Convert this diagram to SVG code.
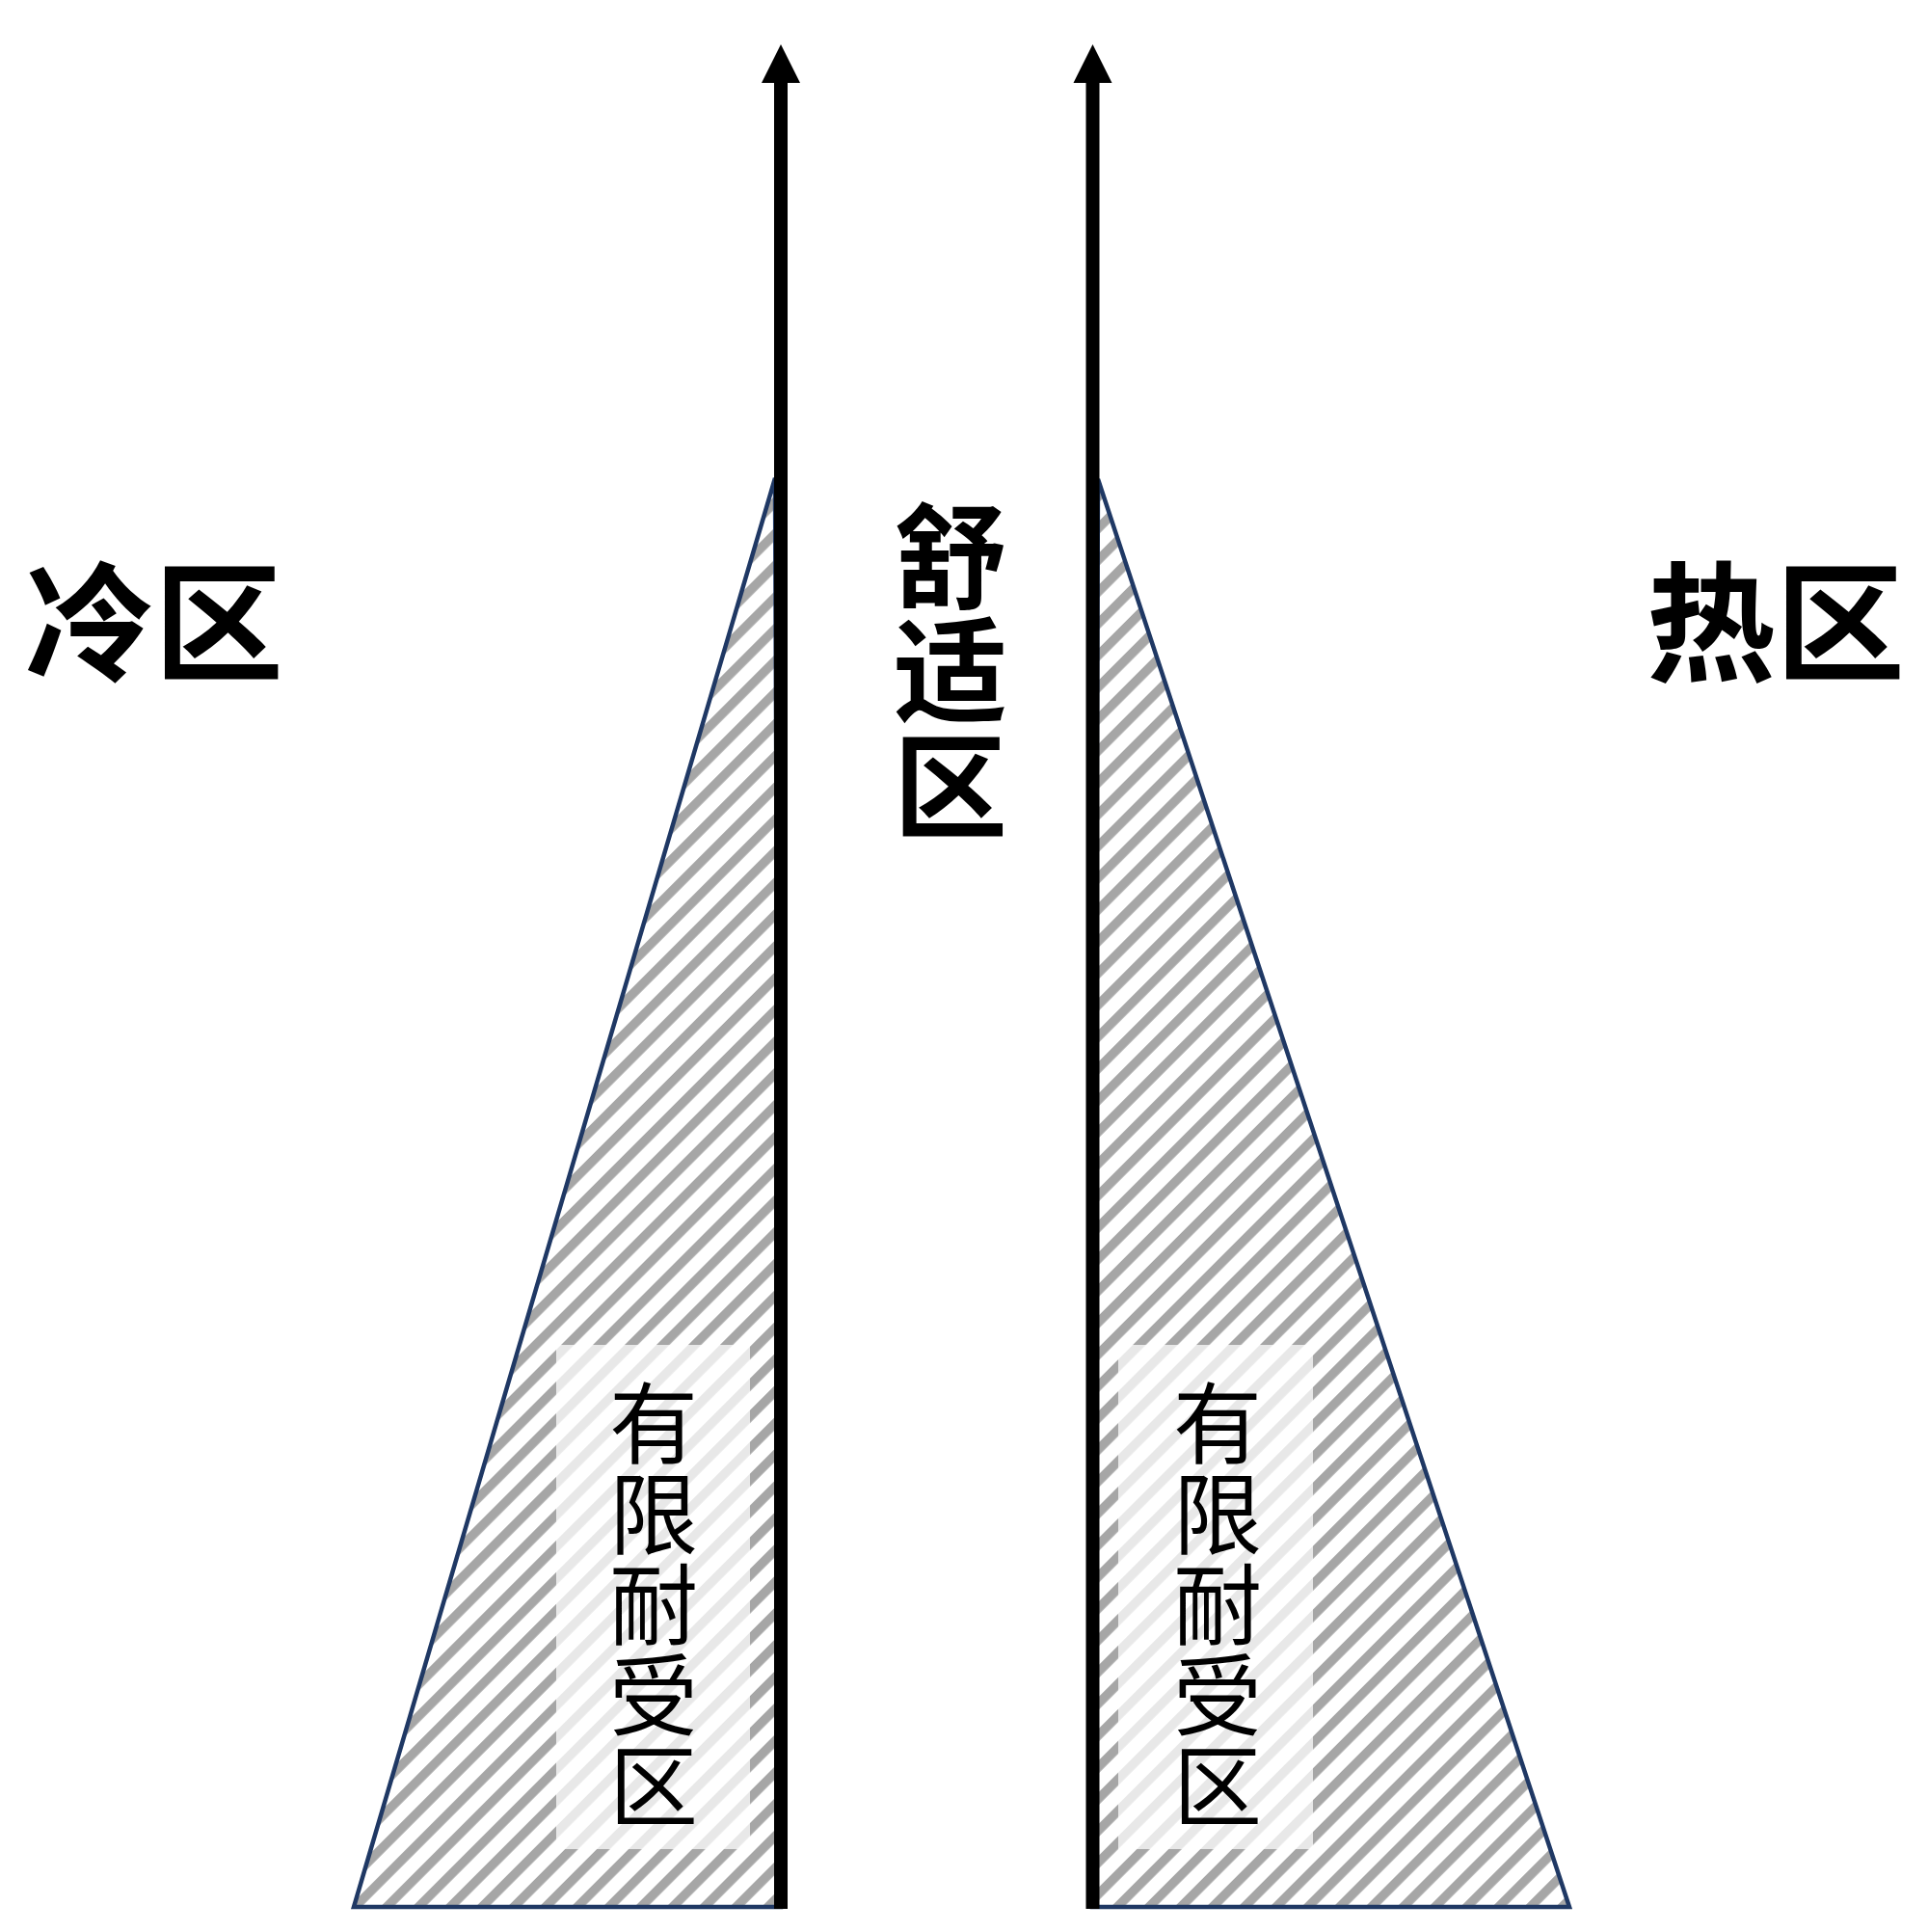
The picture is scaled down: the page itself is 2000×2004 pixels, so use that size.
<svg xmlns="http://www.w3.org/2000/svg" width="2000" height="2004" viewBox="0 0 2000 2004">
  <style>
    .zone { stroke: #1f3864; stroke-width: 4.5; stroke-linejoin: miter; fill: url(#hatch); }
    .veil { fill: #ffffff; fill-opacity: 0.74; }
    .big { font-family: "Noto Sans CJK SC", "Liberation Serif", serif; font-weight: bold; fill: #000; text-anchor: middle; dominant-baseline: central; }
    .small { font-family: "Noto Sans CJK SC", "Liberation Serif", serif; font-weight: normal; fill: #000; text-anchor: middle; dominant-baseline: central; font-size: 92px; }
    .shaft { stroke: #000; stroke-width: 14; fill: none; }
    .head { fill: #000; }
  </style>
  <defs>
    <pattern id="hatch" patternUnits="userSpaceOnUse" width="20" height="23.3" patternTransform="rotate(-45)">
      <rect x="0" y="0" width="20" height="23.3" fill="#ffffff"/>
      <rect x="0" y="0" width="20" height="9.5" fill="#a6a6a6"/>
    </pattern>
  </defs>
  <rect x="0" y="0" width="2000" height="2004" fill="#ffffff"/>

  <g id="zone-left-tolerance">
    <polygon class="zone" points="804,496 367,1978 810,1978"/>
    <rect class="veil" x="577" y="1395" width="201" height="523"/>
    <text class="small" x="678" y="1470">有</text>
    <text class="small" x="678" y="1564">限</text>
    <text class="small" x="678" y="1658">耐</text>
    <text class="small" x="678" y="1752">受</text>
    <text class="small" x="678" y="1846">区</text>
  </g>

  <g id="zone-right-tolerance">
    <polygon class="zone" points="1139,497 1628,1978 1133,1978"/>
    <rect class="veil" x="1160" y="1395" width="202" height="523"/>
    <text class="small" x="1263" y="1470">有</text>
    <text class="small" x="1263" y="1564">限</text>
    <text class="small" x="1263" y="1658">耐</text>
    <text class="small" x="1263" y="1752">受</text>
    <text class="small" x="1263" y="1846">区</text>
  </g>

  <g id="label-cold">
    <text class="big" x="160" y="638" font-size="134">冷区</text>
  </g>
  <g id="label-hot">
    <text class="big" x="1842" y="638" font-size="134">热区</text>
  </g>
  <g id="label-comfort">
    <text class="big" x="986" y="570" font-size="118">舒</text>
    <text class="big" x="986" y="688" font-size="118">适</text>
    <text class="big" x="986" y="808" font-size="118">区</text>
  </g>

  <g id="connectors">
    <line class="shaft" x1="810" y1="1980" x2="810" y2="84"/>
    <polygon class="head" points="810,46 830,86 790,86"/>
    <line class="shaft" x1="1133.5" y1="1980" x2="1133.5" y2="84"/>
    <polygon class="head" points="1133.5,46 1153.5,86 1113.5,86"/>
  </g>
</svg>
